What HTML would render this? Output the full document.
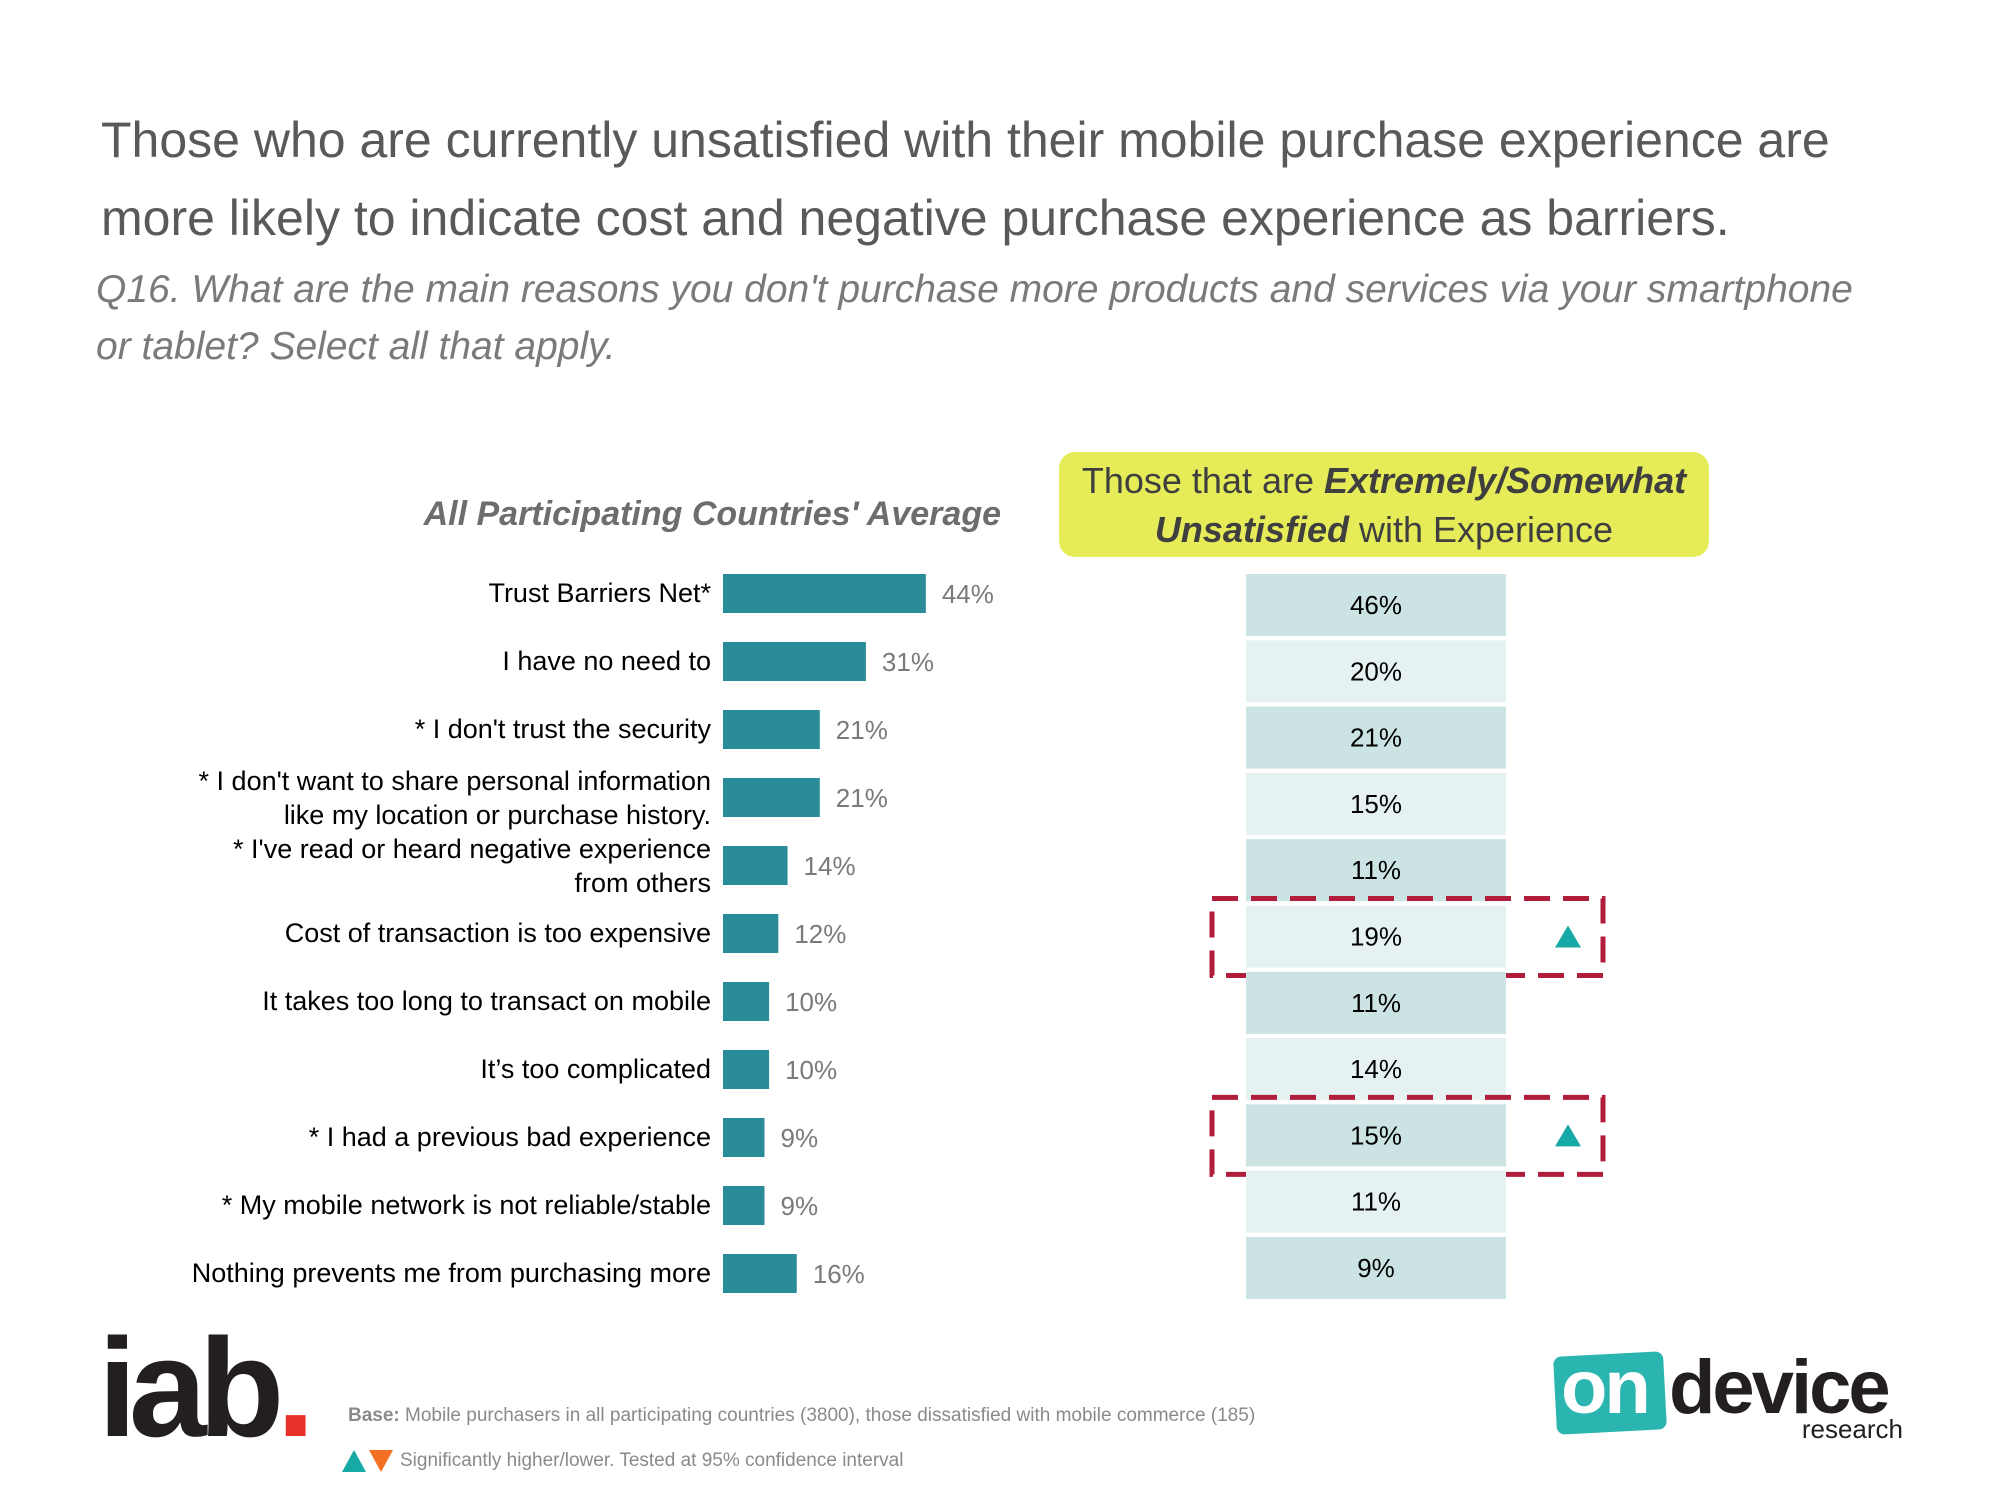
<!DOCTYPE html>
<html><head><meta charset="utf-8">
<style>
body{margin:0;width:2000px;height:1500px;background:#fff;overflow:hidden;font-family:"Liberation Sans",sans-serif;position:relative}
.abs{position:absolute}
.title{left:101px;top:101px;font-size:50px;color:#595959;line-height:78px;white-space:nowrap}
.sub{left:96px;top:261px;font-size:39px;color:#7a7a7a;font-style:italic;line-height:57px;white-space:nowrap}
</style></head>
<body>
<div class="abs title">Those who are currently unsatisfied with their mobile purchase experience are<br>more likely to indicate cost and negative purchase experience as barriers.</div>
<div class="abs sub">Q16. What are the main reasons you don't purchase more products and services via your smartphone<br>or tablet? Select all that apply.</div>
<div class="abs" style="right:999px;top:495px;font-size:34px;font-weight:bold;font-style:italic;color:#6d6d6d;white-space:nowrap">All Participating Countries' Average</div>
<div class="abs" style="left:1059px;top:452px;width:650px;height:105px;background:#e6ec58;border-radius:16px;text-align:center;font-size:36px;line-height:49px;color:#3f3f3f;padding-top:4px;box-sizing:border-box">Those that are <b><i>Extremely/Somewhat</i></b><br><b><i>Unsatisfied</i></b> with Experience</div>
<svg class="abs" style="left:0;top:0" width="2000" height="1500" id="chart"></svg>
<div class="abs" style="left:98px;top:1318px;font-size:140px;font-weight:bold;letter-spacing:-8px;color:#231f20;line-height:140px">iab<span style="color:#e8302a">.</span></div>
<div class="abs" style="left:348px;top:1405px;font-size:19px;color:#8a8a8a;white-space:nowrap"><b>Base:</b> Mobile purchasers in all participating countries (3800), those dissatisfied with mobile commerce (185)</div>
<svg class="abs" style="left:342px;top:1449px" width="52" height="24"><polygon points="0,23 12,1 24,23" fill="#17a9a5"/><polygon points="27,1 51,1 39,23" fill="#f36f21"/></svg>
<div class="abs" style="left:400px;top:1450px;font-size:19px;color:#8a8a8a;white-space:nowrap">Significantly higher/lower. Tested at 95% confidence interval</div>
<div class="abs" style="left:1555px;top:1348px;width:350px;height:100px">
 <div style="position:absolute;left:0;top:6px;width:110px;height:78px;background:#2bb5b0;border-radius:8px;transform:rotate(-3deg)"></div>
 <div style="position:absolute;left:6px;top:-4px;font-size:76px;font-weight:bold;color:#fff;letter-spacing:-3px">on</div>
 <div style="position:absolute;left:114px;top:-4px;font-size:76px;font-weight:bold;color:#231f20;letter-spacing:-3px">device</div>
 <div style="position:absolute;right:2px;top:66px;font-size:26px;color:#231f20">research</div>
</div>
<script>
const categories=["Trust Barriers Net*","I have no need to","* I don't trust the security","* I don't want to share personal information|like my location or purchase history.","* I've read or heard negative experience|from others","Cost of transaction is too expensive","It takes too long to transact on mobile","It’s too complicated","* I had a previous bad experience","* My mobile network is not reliable/stable","Nothing prevents me from purchasing more"];
const avgValues=[44,31,21,21,14,12,10,10,9,9,16];
const unsatValues=[46,20,21,15,11,19,11,14,15,11,9];
const sigHigher=[false,false,false,false,false,true,false,false,true,false,false];
const NS="http://www.w3.org/2000/svg";
const svg=document.getElementById('chart');
const x0=723, pxPer=4.61, rowY0=593, pitch=68.0;
const xScale=v=>v*pxPer;
const yScale=i=>rowY0+i*pitch;
function mk(t,a){const e=document.createElementNS(NS,t);for(const k in a)e.setAttribute(k,a[k]);svg.appendChild(e);return e;}
categories.forEach((c,i)=>{
  const cy=yScale(i);
  const lines=c.split('|');
  const lab=mk('text',{x:711,y:cy+(lines.length>1?-7:9),'text-anchor':'end','font-size':27,fill:'#000','font-family':'"Liberation Sans Narrow","Liberation Sans",sans-serif'});
  
  
  lines.forEach((l,j)=>{const ts=document.createElementNS(NS,'tspan');ts.setAttribute('x',711);if(j>0)ts.setAttribute('dy',34);ts.textContent=l;lab.appendChild(ts);});
  const w=xScale(avgValues[i]);
  const b=mk('rect',{x:x0,y:cy-19,width:w,height:39,fill:'#2a8c98'});
  
  
  const v=mk('text',{x:x0+w+16,y:cy+10,'font-size':26,fill:'#7a7a7a'});
  
  
  v.textContent=avgValues[i]+'%';
  const ry=574+i*66.3;
  const cell=mk('rect',{x:1246,y:ry,width:260,height:62,fill:i%2===0?'#cce3e3':'#e6f2f2'});
  
  
  const ct=mk('text',{x:1376,y:ry+40,'text-anchor':'middle','font-size':26,fill:'#000'});
  
  
  ct.textContent=unsatValues[i]+'%';
  if(sigHigher[i]){
    const hb=mk('rect',{x:1212,y:ry-7,width:391,height:77,fill:'none',stroke:'#b01e3c','stroke-width':5,'stroke-dasharray':'26,13'});
    
    
    const tcx=1568, tcy=ry+31;
    const tr=mk('polygon',{points:`${tcx-13},${tcy+11} ${tcx},${tcy-11} ${tcx+13},${tcy+11}`,fill:'#17a9a5'});
    
    
  }
});
</script>
</body></html>
